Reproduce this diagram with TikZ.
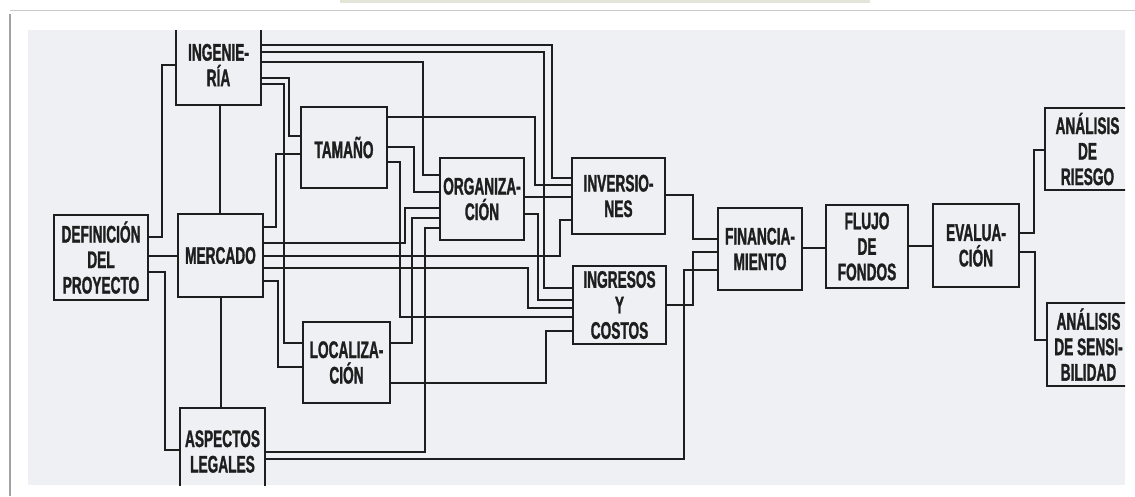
\documentclass[tikz,border=0pt]{standalone}
\usepackage{fontspec}
\newfontfamily\boxfont[FakeStretch=0.57,FakeBold=1.2]{Liberation Sans}
\usetikzlibrary{calc}
\definecolor{ink}{HTML}{1E1E1E}
\definecolor{scan}{HTML}{EEF0F3}
\definecolor{frame}{HTML}{C9C9C9}
\definecolor{topband}{HTML}{E2E5D8}
\begin{document}
\begin{tikzpicture}[x=1pt,y=-1pt,
  box/.style={draw=ink, line width=1.9pt, align=center, text=ink,
    font=\boxfont\bfseries\fontsize{24}{25.5}\selectfont, inner sep=0pt},
  wire/.style={draw=ink, line width=1.7pt}]
\useasboundingbox (0,0) rectangle (1135,496);
\fill[white] (0,0) rectangle (1135,496);
\fill[topband] (340,0) rectangle (870,3);
\draw[frame, line width=0.8pt] (10,10) -- (1135,10);
\draw[frame!80!black, line width=2.2pt] (10,14) -- (10,496);
\fill[scan] (28,30) rectangle (1125,485);
\newcommand\bx[6]{\node[box, minimum width=#4pt, minimum height=#5pt] (#1) at (#2,#3) {#6};}
\begin{scope}
\clip (28,30) rectangle (1125,485);
\bx{ing}{218.5}{65}{85}{80}{INGENIE-\\RÍA}
\bx{def}{101}{257.5}{94}{85}{DEFINICIÓN\\DEL\\PROYECTO}
\bx{mer}{220.5}{255.5}{85}{83}{MERCADO}
\bx{asp}{222.5}{451.5}{85}{87}{ASPECTOS\\LEGALES}
\bx{tam}{344}{147.5}{86}{81}{TAMAÑO}
\bx{loc}{346.5}{362.5}{87}{81}{LOCALIZA-\\CIÓN}
\bx{org}{482}{199}{84}{82}{ORGANIZA-\\CIÓN}
\bx{inv}{618.5}{196}{93}{76}{INVERSIO-\\NES}
\bx{ingr}{619.5}{305}{93}{78}{INGRESOS\\Y\\COSTOS}
\bx{fin}{760}{249}{84}{82}{FINANCIA-\\MIENTO}
\bx{flu}{867}{246.5}{82}{83}{FLUJO\\DE\\FONDOS}
\bx{eva}{976}{245.5}{86}{83}{EVALUA-\\CIÓN}
\bx{rie}{1087.5}{149}{85}{82}{ANÁLISIS\\DE\\RIESGO}
\bx{sen}{1088.5}{344.5}{83}{83}{ANÁLISIS\\DE SENSI-\\BILIDAD}
% definición del proyecto
\draw[wire] (def.east |- 0,237) -| (162,65) -- (ing.west |- 0,65);
\draw[wire] (def.east |- 0,256) -- (mer.west |- 0,256);
\draw[wire] (def.east |- 0,272) -| (165,450) -- (asp.west |- 0,450);
\draw[wire] (ing.south -| 220,0) -- (mer.north -| 220,0);
\draw[wire] (mer.south -| 221,0) -- (asp.north -| 221,0);
% ingeniería
\draw[wire] (ing.east |- 0,45) -| (552,178) -- (inv.west |- 0,178);
\draw[wire] (ing.east |- 0,52) -| (544,288) -- (ingr.west |- 0,288);
\draw[wire] (ing.east |- 0,62) -| (423,175) -- (org.west |- 0,175);
\draw[wire] (ing.east |- 0,78) -| (289,136) -- (tam.west |- 0,136);
\draw[wire] (ing.east |- 0,84) -| (284,343) -- (loc.west |- 0,343);
% mercado
\draw[wire] (mer.east |- 0,227) -| (276,154) -- (tam.west |- 0,154);
\draw[wire] (mer.east |- 0,243) -| (405,208) -- (org.west |- 0,208);
\draw[wire] (mer.east |- 0,256) -| (560,220) -- (inv.west |- 0,220);
\draw[wire] (mer.east |- 0,268) -| (528,308) -- (ingr.west |- 0,308);
\draw[wire] (mer.east |- 0,281) -| (278,367) -- (loc.west |- 0,367);
% tamaño
\draw[wire] (tam.east |- 0,117) -| (535,185) -- (inv.west |- 0,185);
\draw[wire] (tam.east |- 0,147) -| (414,192) -- (org.west |- 0,192);
\draw[wire] (tam.east |- 0,162) -| (400,317) -- (ingr.west |- 0,317);
% localización
\draw[wire] (loc.east |- 0,343) -| (412,218) -- (org.west |- 0,218);
\draw[wire] (loc.east |- 0,383) -| (546,331) -- (ingr.west |- 0,331);
% aspectos legales
\draw[wire] (asp.east |- 0,452) -| (425,228) -- (org.west |- 0,228);
\draw[wire] (asp.east |- 0,459) -| (684,270) -- (fin.west |- 0,270);
% organización
\draw[wire] (org.east |- 0,197) -- (inv.west |- 0,197);
\draw[wire] (org.east |- 0,214) -| (538,300) -- (ingr.west |- 0,300);
% to financiamiento
\draw[wire] (inv.east |- 0,195) -| (693,239) -- (fin.west |- 0,239);
\draw[wire] (ingr.east |- 0,305) -| (693,252) -- (fin.west |- 0,252);
% chain
\draw[wire] (fin.east |- 0,248) -- (flu.west |- 0,248);
\draw[wire] (flu.east |- 0,246) -- (eva.west |- 0,246);
\draw[wire] (eva.east |- 0,233) -| (1034,150) -- (rie.west |- 0,150);
\draw[wire] (eva.east |- 0,252) -| (1035,340) -- (sen.west |- 0,340);
\end{scope}
\end{tikzpicture}
\end{document}
